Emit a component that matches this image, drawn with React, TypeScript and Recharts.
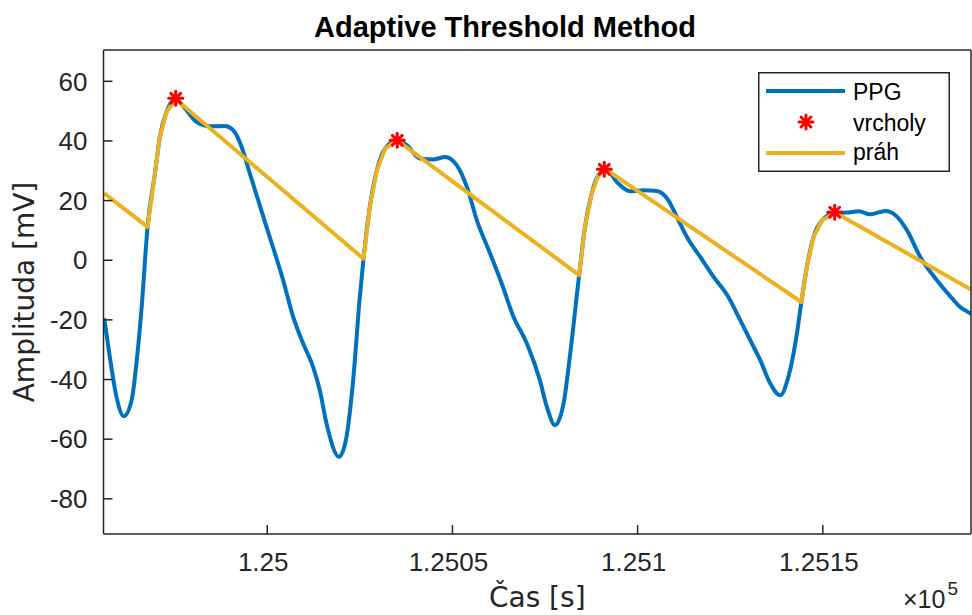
import React from "react";
import { ComposedChart, Line, Scatter, XAxis, YAxis, Legend, Label } from "recharts";

// PPG signal (time in samples, amplitude in mV)
const ppgTime = [
  124956.0, 124957.5, 124959.3, 124961.3, 124963.4, 124964.7, 124966.1, 124967.7, 124969.7, 124971.0,
  124972.8, 124975.3, 124977.8, 124980.9, 124984.5, 124988.6, 124990.8, 124993.1, 124995.3, 124999.8,
  125004.3, 125007.0, 125009.7, 125012.4, 125014.2, 125016.0, 125019.4, 125021.4, 125023.2, 125025.0,
  125026.0, 125027.7, 125029.6, 125031.8, 125035.1, 125037.7, 125041.2, 125044.8, 125048.0, 125051.2,
  125053.9, 125056.6, 125060.2, 125063.3, 125066.5, 125070.1, 125073.6, 125075.5, 125077.7, 125080.0,
  125081.8, 125084.2, 125085.8, 125087.6, 125089.4, 125091.5, 125094.4, 125098.0, 125101.6, 125105.2,
  125108.3, 125110.6, 125113.3, 125116.9, 125120.5, 125124.5, 125127.7, 125130.4, 125133.1, 125135.8,
  125138.5, 125140.7, 125143.0, 125144.2, 125145.7, 125147.5, 125149.8, 125153.4, 125156.5, 125159.7,
  125162.8, 125166.9, 125169.6, 125172.7, 125176.3, 125180.8, 125184.9, 125187.1, 125190.0,
];
const ppgValue = [
  -19.5, -32.4, -45.8, -52.3, -46.9, -34.5, -15.7, 11.2, 29.2, 41.3,
  49.7, 54.0, 50.9, 46.4, 44.9, 45.0, 43.6, 38.0, 29.1, 11.2,
  -6.7, -19.0, -27.9, -35.8, -43.6, -54.7, -65.9, -59.2, -40.2, -12.3,
  0.5, 17.9, 30.2, 37.4, 40.2, 38.6, 34.1, 33.8, 34.6, 31.8,
  24.6, 13.4, 2.2, -7.8, -19.0, -27.9, -40.2, -49.2, -55.3, -48.0,
  -31.3, -5.0, 11.2, 22.4, 28.5, 30.4, 26.2, 23.1, 23.5, 23.2,
  20.1, 14.5, 7.8, 1.1, -5.6, -12.3, -20.1, -26.8, -33.5, -41.3,
  -45.3, -39.1, -24.6, -14.0, -2.2, 7.8, 13.4, 15.9, 16.0, 16.4,
  15.4, 16.5, 15.1, 10.1, 1.1, -6.7, -12.8, -15.7, -17.9,
];

// adaptive threshold (práh)
const thrTime = [
  124956.0, 124967.7, 124969.7, 124971.0, 124972.8, 124975.3,
  125026.0, 125027.7, 125029.6, 125031.8, 125035.1,
  125084.2, 125085.8, 125087.6, 125089.4, 125091.5,
  125144.2, 125145.7, 125147.5, 125149.8, 125153.4,
  125190.0,
];
const thrValue = [
  22.4, 11.2, 29.2, 41.3, 49.7, 54.0,
  0.5, 17.9, 30.2, 37.4, 40.2,
  -5.0, 11.2, 22.4, 28.5, 30.4,
  -14.0, -2.2, 7.8, 13.4, 15.9,
  -9.8,
];

// detected peaks (vrcholy)
const peakTime = [124975.3, 125035.1, 125091.0, 125153.2];
const peakValue = [54.3, 40.2, 30.5, 16.1];

const xTicks = [125000, 125050, 125100, 125150];
const yTicks = [-80, -60, -40, -20, 0, 20, 40, 60];

const ppgData = ppgTime.map((t, i) => ({ t, v: ppgValue[i] }));
const thrData = thrTime.map((t, i) => ({ t, v: thrValue[i] }));
const peakData = peakTime.map((t, i) => ({ t, v: peakValue[i] }));

const BLUE = "#0072BD";
const ORANGE = "#EDB120";
const RED = "#FF0000";
const AXIS = "#262626";
const SANS = "Liberation Sans, Arial, sans-serif";
const TICK_FONT = { fontSize: 26, fill: AXIS, fontFamily: SANS };

function Asterisk(props: any) {
  const { cx, cy } = props;
  const r = 7;
  const d = r * 0.7071;
  return (
    <g stroke={RED} strokeWidth={3} strokeLinecap="round">
      <line x1={cx - r} y1={cy} x2={cx + r} y2={cy} />
      <line x1={cx} y1={cy - r} x2={cx} y2={cy + r} />
      <line x1={cx - d} y1={cy - d} x2={cx + d} y2={cy + d} />
      <line x1={cx - d} y1={cy + d} x2={cx + d} y2={cy - d} />
      <circle cx={cx} cy={cy} r={3.5} fill={RED} stroke="none" />
    </g>
  );
}

function LegendBox() {
  const txt = { fontSize: 23, fill: "#000", fontFamily: SANS };
  return (
    <svg width={192} height={100} style={{ display: "block" }}>
      <rect x={0.75} y={0.75} width={190.5} height={98.5} fill="#fff" stroke={AXIS} strokeWidth={1.5} />
      <line x1={8} x2={87} y1={19} y2={19} stroke={BLUE} strokeWidth={4} />
      <text x={95} y={20} dominantBaseline="central" {...txt}>PPG</text>
      <Asterisk cx={48} cy={50} />
      <text x={95} y={51} dominantBaseline="central" {...txt}>vrcholy</text>
      <line x1={8} x2={87} y1={81} y2={81} stroke={ORANGE} strokeWidth={4} />
      <text x={95} y={80} dominantBaseline="central" {...txt}>práh</text>
    </svg>
  );
}

export default function App() {
  return (
    <div style={{ position: "absolute", left: 0, top: 0, width: 972, height: 615, background: "#fff" }}>
      <ComposedChart width={972} height={615} margin={{ top: 0, right: 0, bottom: 0, left: 0 }}>
        <XAxis
          dataKey="t"
          type="number"
          domain={[124955.8, 125190]}
          allowDataOverflow
          ticks={xTicks}
          interval={0}
          height={81}
          tickSize={-9}
          tickMargin={28}
          tickFormatter={(v: number) => String(v / 1e5)}
          tick={{ ...TICK_FONT, dx: -4 }}
          stroke={AXIS}
          strokeWidth={1.5}
        >
          <Label
            value="Čas [s]"
            position="insideBottom"
            offset={8}
            style={{ fontSize: 28, fill: AXIS, fontFamily: "DejaVu Sans" }}
          />
        </XAxis>
        <XAxis
          xAxisId="top"
          dataKey="t"
          type="number"
          orientation="top"
          domain={[124955.8, 125190]}
          allowDataOverflow
          ticks={xTicks}
          interval={0}
          height={50}
          tickSize={-9}
          tick={false}
          stroke={AXIS}
          strokeWidth={1.5}
        />
        <YAxis
          type="number"
          domain={[-91.8, 70.5]}
          allowDataOverflow
          ticks={yTicks}
          interval={0}
          width={103.5}
          tickSize={-9}
          tickMargin={25}
          tick={TICK_FONT}
          stroke={AXIS}
          strokeWidth={1.5}
        >
          <Label
            value="Amplituda [mV]"
            angle={-90}
            position="insideLeft"
            offset={24}
            style={{ fontSize: 28, fill: AXIS, fontFamily: "DejaVu Sans", textAnchor: "middle" }}
          />
        </YAxis>
        <YAxis
          yAxisId="right"
          type="number"
          orientation="right"
          domain={[-91.8, 70.5]}
          allowDataOverflow
          ticks={yTicks}
          interval={0}
          width={1}
          tickSize={-9}
          tick={false}
          stroke={AXIS}
          strokeWidth={1.5}
        />
        <Legend
          verticalAlign="middle"
          align="center"
          layout="horizontal"
          content={() => <LegendBox />}
          wrapperStyle={{ left: 758, top: 72, width: 192, height: 100 }}
        />
        <Line
          data={ppgData}
          dataKey="v"
          name="PPG"
          type="monotone"
          stroke={BLUE}
          strokeWidth={4}
          dot={false}
          activeDot={false}
          isAnimationActive={false}
        />
        <Scatter
          data={peakData}
          dataKey="v"
          name="vrcholy"
          shape={<Asterisk />}
          isAnimationActive={false}
        />
        <Line
          data={thrData}
          dataKey="v"
          name="práh"
          type="linear"
          stroke={ORANGE}
          strokeWidth={4}
          strokeLinejoin="round"
          dot={false}
          activeDot={false}
          isAnimationActive={false}
        />
      </ComposedChart>
      <svg
        width={972}
        height={615}
        style={{ position: "absolute", left: 0, top: 0, pointerEvents: "none" }}
      >
        <text x={505} y={37} textAnchor="middle" fontSize={29} fontWeight="bold" fill="#000" fontFamily={SANS}>
          Adaptive Threshold Method
        </text>
        <text x={903} y={608} fontSize={25} fill={AXIS} fontFamily={SANS}>
          ×10
          <tspan fontSize={19} dy={-13} dx={2}>5</tspan>
        </text>
      </svg>
    </div>
  );
}
